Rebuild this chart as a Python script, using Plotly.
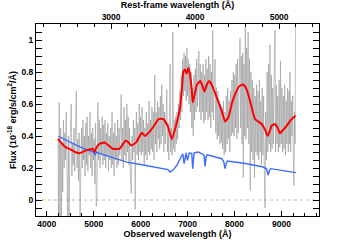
import plotly.graph_objects as go

# ---------------- data ----------------
REDSHIFT_FACTOR = 1.79  # observed / rest-frame wavelength

GRAY_WAVE = [
    4240, 4250, 4265, 4280, 4295, 4310, 4325, 4340, 4355, 4370,
    4385, 4400, 4415, 4430, 4445, 4460, 4475, 4490, 4505, 4520,
    4535, 4550, 4565, 4580, 4595, 4610, 4628, 4645, 4660, 4675,
    4690, 4710, 4725, 4740, 4755, 4770, 4785, 4800, 4815, 4830,
    4845, 4860, 4875, 4890, 4905, 4920, 4935, 4950, 4965, 4980,
    4995, 5010, 5025, 5040, 5053, 5068, 5080, 5089, 5105, 5120,
    5135, 5150, 5165, 5180, 5195, 5210, 5225, 5240, 5255, 5270,
    5285, 5300, 5315, 5330, 5345, 5360, 5375, 5390, 5405, 5420,
    5435, 5450, 5465, 5480, 5495, 5510, 5525, 5540, 5555, 5570,
    5585, 5600, 5615, 5630, 5645, 5660, 5675, 5690, 5705, 5720,
    5735, 5750, 5765, 5780, 5800, 5815, 5830, 5845, 5860, 5875,
    5883, 5895, 5910, 5925, 5940, 5955, 5970, 5985, 6000, 6015,
    6030, 6045, 6060, 6075, 6090, 6105, 6120, 6135, 6150, 6165,
    6180, 6195, 6210, 6225, 6240, 6255, 6270, 6285, 6300, 6315,
    6330, 6345, 6360, 6375, 6390, 6405, 6420, 6435, 6450, 6465,
    6480, 6495, 6510, 6525, 6540, 6557, 6570, 6585, 6600, 6615,
    6628, 6640, 6655, 6670, 6685, 6700, 6715, 6730, 6745, 6760,
    6775, 6790, 6805, 6820, 6835, 6850, 6865, 6880, 6895, 6910,
    6925, 6940, 6955, 6970, 6985, 7000, 7015, 7030, 7045, 7060,
    7075, 7090, 7105, 7120, 7135, 7150, 7165, 7180, 7195, 7210,
    7225, 7240, 7255, 7270, 7285, 7300, 7315, 7330, 7345, 7360,
    7375, 7390, 7405, 7420, 7435, 7450, 7465, 7480, 7495, 7510,
    7525, 7536, 7550, 7565, 7585, 7600, 7615, 7630, 7645, 7660,
    7675, 7690, 7705, 7720, 7735, 7750, 7765, 7780, 7795, 7810,
    7825, 7840, 7855, 7870, 7885, 7900, 7915, 7930, 7945, 7960,
    7975, 7990, 8005, 8020, 8035, 8050, 8065, 8080, 8095, 8117,
    8130, 8145, 8160, 8175, 8187, 8200, 8215, 8230, 8245, 8260,
    8275, 8290, 8305, 8320, 8335, 8350, 8365, 8380, 8395, 8410,
    8425, 8440, 8455, 8470, 8485, 8500, 8515, 8530, 8545, 8560,
    8575, 8590, 8605, 8620, 8635, 8650, 8665, 8680, 8695, 8710,
    8725, 8740, 8755, 8770, 8785, 8800, 8815, 8830, 8845, 8862,
    8875, 8890, 8905, 8920, 8935, 8950, 8965, 8980, 8995, 9010,
    9025, 9040, 9055, 9070, 9085, 9100, 9115, 9130, 9145, 9160,
    9175, 9180, 9195, 9210, 9225, 9240, 9255, 9266, 9280, 9290,
    9300,
]
GRAY_FLUX = [
    0.38, -0.15, 0.61, -0.15, 0.45, -0.12, 0.35, 0.05, 0.50, 0.20,
    0.42, 0.25, 0.55, 0.10, -0.15, 0.40, -0.15, 0.30, 0.45, 0.60,
    0.15, 0.35, 0.22, 0.45, 0.18, 0.40, 0.68, 0.20, 0.38, 0.12,
    0.42, -0.12, 0.30, 0.45, 0.20, 0.50, 0.25, 0.40, 0.15, 0.48,
    0.22, 0.52, 0.18, 0.40, 0.28, 0.55, 0.20, 0.42, 0.15, 0.45,
    0.25, 0.38, 0.10, 0.48, -0.04, 0.00, 0.35, 0.61, 0.25, 0.50,
    0.20, 0.45, 0.28, 0.52, 0.22, 0.47, 0.25, 0.50, 0.20, 0.42,
    0.27, 0.48, 0.18, 0.40, 0.25, 0.45, 0.20, 0.55, 0.22, 0.42,
    0.15, 0.48, 0.25, 0.40, 0.20, 0.50, 0.22, 0.45, 0.28, 0.55,
    0.66, 0.25, 0.45, 0.20, 0.58, 0.28, 0.50, 0.25, 0.60, 0.30,
    0.52, 0.22, 0.45, 0.15, 0.04, 0.40, 0.25, 0.50, 0.30, 0.45,
    -0.06, 0.35, 0.55, 0.28, 0.48, 0.25, 0.60, 0.30, 0.52, 0.28,
    0.58, 0.30, 0.50, 0.22, 0.45, 0.28, 0.55, 0.25, 0.48, 0.30,
    0.62, 0.28, 0.50, 0.32, 0.58, 0.30, 0.55, 0.25, 0.78, 0.35,
    0.55, 0.30, 0.62, 0.38, 0.58, 0.32, 0.65, 0.35, 0.72, 0.40,
    0.60, 0.30, 0.55, 0.35, 0.50, 0.69, 0.30, 0.48, 0.25, 0.52,
    0.85, 0.30, 0.45, 0.28, 1.05, 0.32, 0.50, 0.30, 0.52, 0.35,
    0.55, 0.38, 0.60, 0.45, 0.68, 0.50, 0.78, 0.55, 0.88, 0.65,
    0.92, 0.68, 0.90, 0.62, 0.95, 0.65, 0.88, 0.60, 0.85, 0.55,
    0.80, 0.45, 0.70, 0.40, 0.78, 0.50, 0.82, 0.55, 0.88, 0.58,
    0.85, 0.93, 0.55, 0.85, 0.50, 0.80, 0.55, 0.85, 0.48, 0.78,
    0.50, 0.88, 0.55, 0.82, 0.50, 0.90, 0.52, 0.85, 0.45, 0.80,
    0.55, 1.06, 0.50, 0.75, 0.88, 0.42, 0.70, 0.38, 0.68, 0.40,
    0.62, 0.35, 0.60, 0.36, 0.58, 0.32, 0.62, 0.28, 0.55, 0.30,
    0.65, 0.35, 0.70, 0.38, 0.62, 0.30, 0.68, 0.40, 0.75, 0.42,
    0.80, 0.40, 0.78, 0.45, 0.85, 0.38, 0.88, 0.42, 0.82, 1.01,
    0.45, 0.90, 0.35, 0.92, 0.14, 0.85, 0.40, 1.08, 0.38, 0.95,
    0.45, 1.05, 0.35, 0.88, 0.06, 0.80, 0.30, 0.75, 0.25, 0.70,
    0.14, 0.65, 0.30, 0.72, 0.28, 0.68, 0.25, 0.75, 0.30, 0.62,
    0.22, 0.70, 0.28, 0.65, 0.20, -0.05, 0.55, 0.25, 0.80, 0.30,
    0.85, 0.35, 0.97, 0.30, 0.78, 0.32, 0.70, 0.35, 0.80, 1.06,
    0.30, 0.72, 0.35, 0.65, 0.30, 0.75, 0.33, 0.87, 0.35, 0.70,
    0.30, 0.65, 0.32, 0.72, 0.28, 0.62, 0.35, 0.70, 0.30, 0.68,
    0.35, 0.80, 0.30, 0.62, 0.40, 0.65, 0.20, 0.09, 0.55, 0.35,
    1.12,
]

RED_WAVE = [
    4238, 4300, 4400, 4485, 4600, 4698, 4840, 4983, 5017, 5060,
    5123, 5230, 5320, 5408, 5550, 5677, 5740, 5798, 5904, 6026,
    6096, 6200, 6300, 6379, 6485, 6580, 6664, 6740, 6800, 6840,
    6880, 6911, 6947, 6980, 7017, 7050, 7085, 7110, 7150, 7200,
    7266, 7310, 7357, 7410, 7464, 7530, 7621, 7728, 7798, 7869,
    7940, 8011, 8100, 8187, 8260, 8330, 8436, 8578, 8650, 8706,
    8750, 8791, 8862, 8920, 8968, 9040, 9111, 9200, 9302,
]
RED_FLUX = [
    0.382, 0.36, 0.33, 0.32, 0.30, 0.293, 0.31, 0.32, 0.30, 0.33,
    0.35, 0.36, 0.34, 0.32, 0.32, 0.37, 0.36, 0.34, 0.36, 0.42,
    0.40, 0.43, 0.47, 0.506, 0.506, 0.46, 0.38, 0.45, 0.52, 0.578,
    0.70, 0.805, 0.815, 0.79, 0.825, 0.785, 0.70, 0.61, 0.66, 0.72,
    0.743, 0.72, 0.677, 0.72, 0.743, 0.71, 0.64, 0.557, 0.49, 0.516,
    0.60, 0.66, 0.71, 0.722, 0.69, 0.62, 0.506, 0.475, 0.44, 0.40,
    0.43, 0.464, 0.475, 0.45, 0.417, 0.44, 0.464, 0.50, 0.526,
]

BLUE_WAVE = [
    4251, 4400, 4550, 4713, 4850, 4996, 5032, 5060, 5138, 5400,
    5706, 6000, 6272, 6521, 6580, 6628, 6700, 6770, 6840, 6898,
    6926, 6968, 6996, 7038, 7089, 7110, 7138, 7230, 7302, 7350,
    7372, 7395, 7421, 7600, 7728, 7770, 7798, 7825, 7847, 8200,
    8613, 8680, 8719, 8745, 8770, 9309,
]
BLUE_FLUX = [
    0.398, 0.375, 0.35, 0.33, 0.315, 0.30, 0.28, 0.30, 0.29, 0.265,
    0.237, 0.222, 0.206, 0.196, 0.19, 0.175, 0.19, 0.217, 0.258, 0.289,
    0.227, 0.295, 0.248, 0.295, 0.29, 0.196, 0.295, 0.30, 0.289, 0.28,
    0.21, 0.27, 0.283, 0.27, 0.258, 0.24, 0.196, 0.23, 0.243, 0.23,
    0.206, 0.195, 0.155, 0.185, 0.196, 0.171,
]

OBS_TICKS = [4000, 5000, 6000, 7000, 8000, 9000]
REST_TICKS = [3000, 4000, 5000]
FLUX_TICKS = [0, 0.2, 0.4, 0.6, 0.8, 1.0]
FLUX_TICKTEXT = ["0", "0.2", "0.4", "0.6", "0.8", "1"]

X_RANGE = [3770, 9800]
REST_RANGE = [X_RANGE[0] / REDSHIFT_FACTOR, X_RANGE[1] / REDSHIFT_FACTOR]
Y_RANGE = [-0.1, 1.1]

# ---------------- figure ----------------
FONT = "Liberation Sans, Arial, sans-serif"

fig = go.Figure()

fig.add_trace(go.Scatter(
    x=GRAY_WAVE, y=GRAY_FLUX, mode="lines",
    line=dict(color="rgba(150,150,150,0.75)", width=0.8),
    hoverinfo="skip", showlegend=False,
))
fig.add_trace(go.Scatter(
    x=BLUE_WAVE, y=BLUE_FLUX, mode="lines",
    line=dict(color="#3c6cff", width=1.4),
    showlegend=False,
))
fig.add_trace(go.Scatter(
    x=RED_WAVE, y=RED_FLUX, mode="lines",
    line=dict(color="#ff0000", width=2, shape="spline", smoothing=0.4),
    showlegend=False,
))
# invisible trace on the rest-frame axis so that it is drawn
fig.add_trace(go.Scatter(
    x=REST_RANGE, y=Y_RANGE,
    xaxis="x2", mode="lines", line=dict(width=0, color="rgba(0,0,0,0)"),
    hoverinfo="skip", showlegend=False,
))

fig.add_shape(type="line", xref="paper", x0=0, x1=1, yref="y", y0=0, y1=0,
              line=dict(color="#bbbbbb", width=1, dash="dot"), layer="below")

tickfont = dict(family=FONT, size=8.5, color="black", weight="bold")
titlefont = dict(family=FONT, size=9, color="black", weight="bold")

fig.update_layout(
    template="none",
    width=355, height=240,
    margin=dict(l=36, r=36, t=24, b=24, autoexpand=False),
    paper_bgcolor="white", plot_bgcolor="white",
    xaxis=dict(
        range=X_RANGE, autorange=False, automargin=False,
        tickvals=OBS_TICKS, ticks="inside", ticklen=5,
        tickwidth=1, tickcolor="black", showline=True, linecolor="black",
        linewidth=1, showgrid=False, zeroline=False, tickfont=tickfont,
        minor=dict(dtick=250, tick0=0, ticks="inside", ticklen=3,
                   tickcolor="black", showgrid=False),
        title=dict(text="Observed wavelength (Å)", font=titlefont, standoff=1),
    ),
    xaxis2=dict(
        overlaying="x", side="top", anchor="y",
        range=REST_RANGE, autorange=False, automargin=False,
        tickvals=REST_TICKS, ticks="inside", ticklen=5, tickwidth=1,
        tickcolor="black", showline=True, linecolor="black", linewidth=1,
        showgrid=False, zeroline=False, tickfont=tickfont,
        minor=dict(dtick=200, tick0=0, ticks="inside", ticklen=3,
                   tickcolor="black", showgrid=False),
        title=dict(text="Rest-frame wavelength (Å)", font=titlefont, standoff=1),
    ),
    yaxis=dict(
        range=Y_RANGE, autorange=False, automargin=False,
        tickvals=FLUX_TICKS, ticktext=FLUX_TICKTEXT,
        ticks="inside", ticklen=6, tickwidth=1, tickcolor="black",
        showline=True, linecolor="black", linewidth=1, mirror="allticks",
        showgrid=False, zeroline=False, tickfont=tickfont,
        minor=dict(dtick=0.05, tick0=0, ticks="inside", ticklen=3,
                   tickcolor="black", showgrid=False),
        title=dict(text="Flux (10<sup>-18</sup> erg/s/cm<sup>2</sup>/Å)",
                   font=titlefont, standoff=3),
    ),
)

fig.write_html(
    "out.html",
    config={"displayModeBar": False},
    post_script="document.body.style.margin='0';document.body.style.overflow='hidden';",
)
